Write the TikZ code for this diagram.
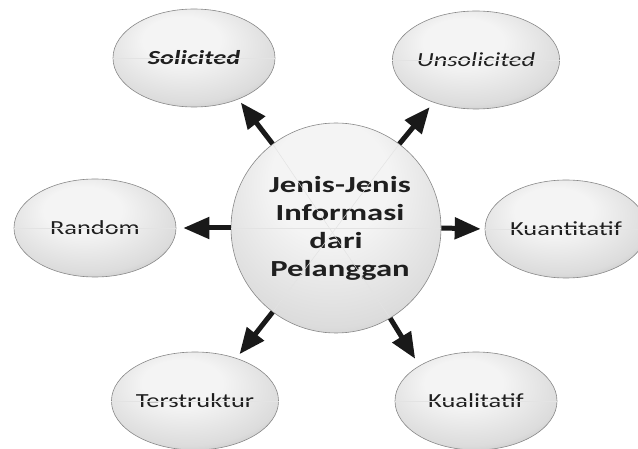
\documentclass[tikz,border=0pt]{standalone}
\usepackage{fontspec}
\setmainfont{Carlito}
\newfontfamily\ovalfont[FakeStretch=1.32]{Carlito}
\newfontfamily\hubfont[FakeStretch=1.42]{Carlito}
\usetikzlibrary{shapes.geometric,arrows.meta}

% soft grey sheen for the ovals and the hub
\definecolor{shA}{HTML}{F4F4F4}
\definecolor{shB}{HTML}{DCDCDC}
\definecolor{shC}{HTML}{A4A4A4}
\definecolor{shD}{HTML}{6A6A6A}
\definecolor{rimgray}{HTML}{888888}
\pgfdeclareradialshading{ovalsheen}{\pgfpoint{-5bp}{12bp}}{%
  color(0bp)=(shA); color(12bp)=(shA); color(28bp)=(shB);
  color(40bp)=(shC); color(50bp)=(shD)}
\pgfdeclareradialshading{hubsheen}{\pgfpoint{-2bp}{16bp}}{%
  color(0bp)=(shA); color(14bp)=(shA); color(30bp)=(shB);
  color(42bp)=(shC); color(50bp)=(shD)}

\tikzset{
  oval/.style={ellipse, draw=rimgray, line width=0.6pt, shading=ovalsheen,
    minimum width=162pt, minimum height=98pt, inner sep=0pt,
    font=\ovalfont\fontsize{20}{24}\selectfont, text=black!88},
  hub/.style={circle, draw=rimgray, line width=0.6pt, shading=hubsheen,
    minimum size=210pt, inner sep=0pt, align=center,
    font=\hubfont\bfseries\fontsize{23}{28}\selectfont, text=black!88},
  arr/.style={line width=5pt, black!90,
    -{Triangle[length=26pt,width=21pt]}},
  sheenline/.style={gray!22, line width=0.5pt}
}

\begin{document}
\begin{tikzpicture}[x=1pt,y=-1pt]
  \useasboundingbox (0,0) rectangle (638,449);

  % outer topics
  \node[oval] (sol)  at (194,58)  {\textbf{\textit{Solicited}}};
  \node[oval] (uns)  at (476,60)  {\textit{Unsolicited}};
  \node[oval] (rand) at (95,228)  {Random};
  \node[oval] (kuan) at (566,229) {Kuantitatif};
  \node[oval] (ters) at (195,401) {Terstruktur};
  \node[oval] (kual) at (476,401) {Kualitatif};

  % central hub; its title sits a little right of centre
  \node[hub] (c) at (336,228) {\hspace*{8pt}Jenis-Jenis\\\hspace*{8pt}Informasi\\dari\\\hspace*{8pt}Pelanggan};

  % faint seams across the shapes
  \foreach \n in {sol,uns,rand,kuan,ters,kual}
    \draw[sheenline] (\n.180) -- (\n.0);
  \draw[sheenline] (c.180) -- (c.0);
  \draw[sheenline] (c.127) -- (c.-59);
  \draw[sheenline] (c.53) -- (c.-127);

  % arrows from the hub
  \draw[arr, shorten >=4pt] (c.127) -- (sol.-43);
  \draw[arr, shorten >=6pt] (c.53) -- (uns.-135);
  \draw[arr, shorten >=7pt] (c.180) -- (rand.0);
  \draw[arr, shorten >=4pt] (c.0) -- (kuan.180);
  \draw[arr, shorten >=5pt] (c.-127) -- (ters.46);
  \draw[arr, shorten >=8pt] (c.-59) -- (kual.148);
\end{tikzpicture}
\end{document}
